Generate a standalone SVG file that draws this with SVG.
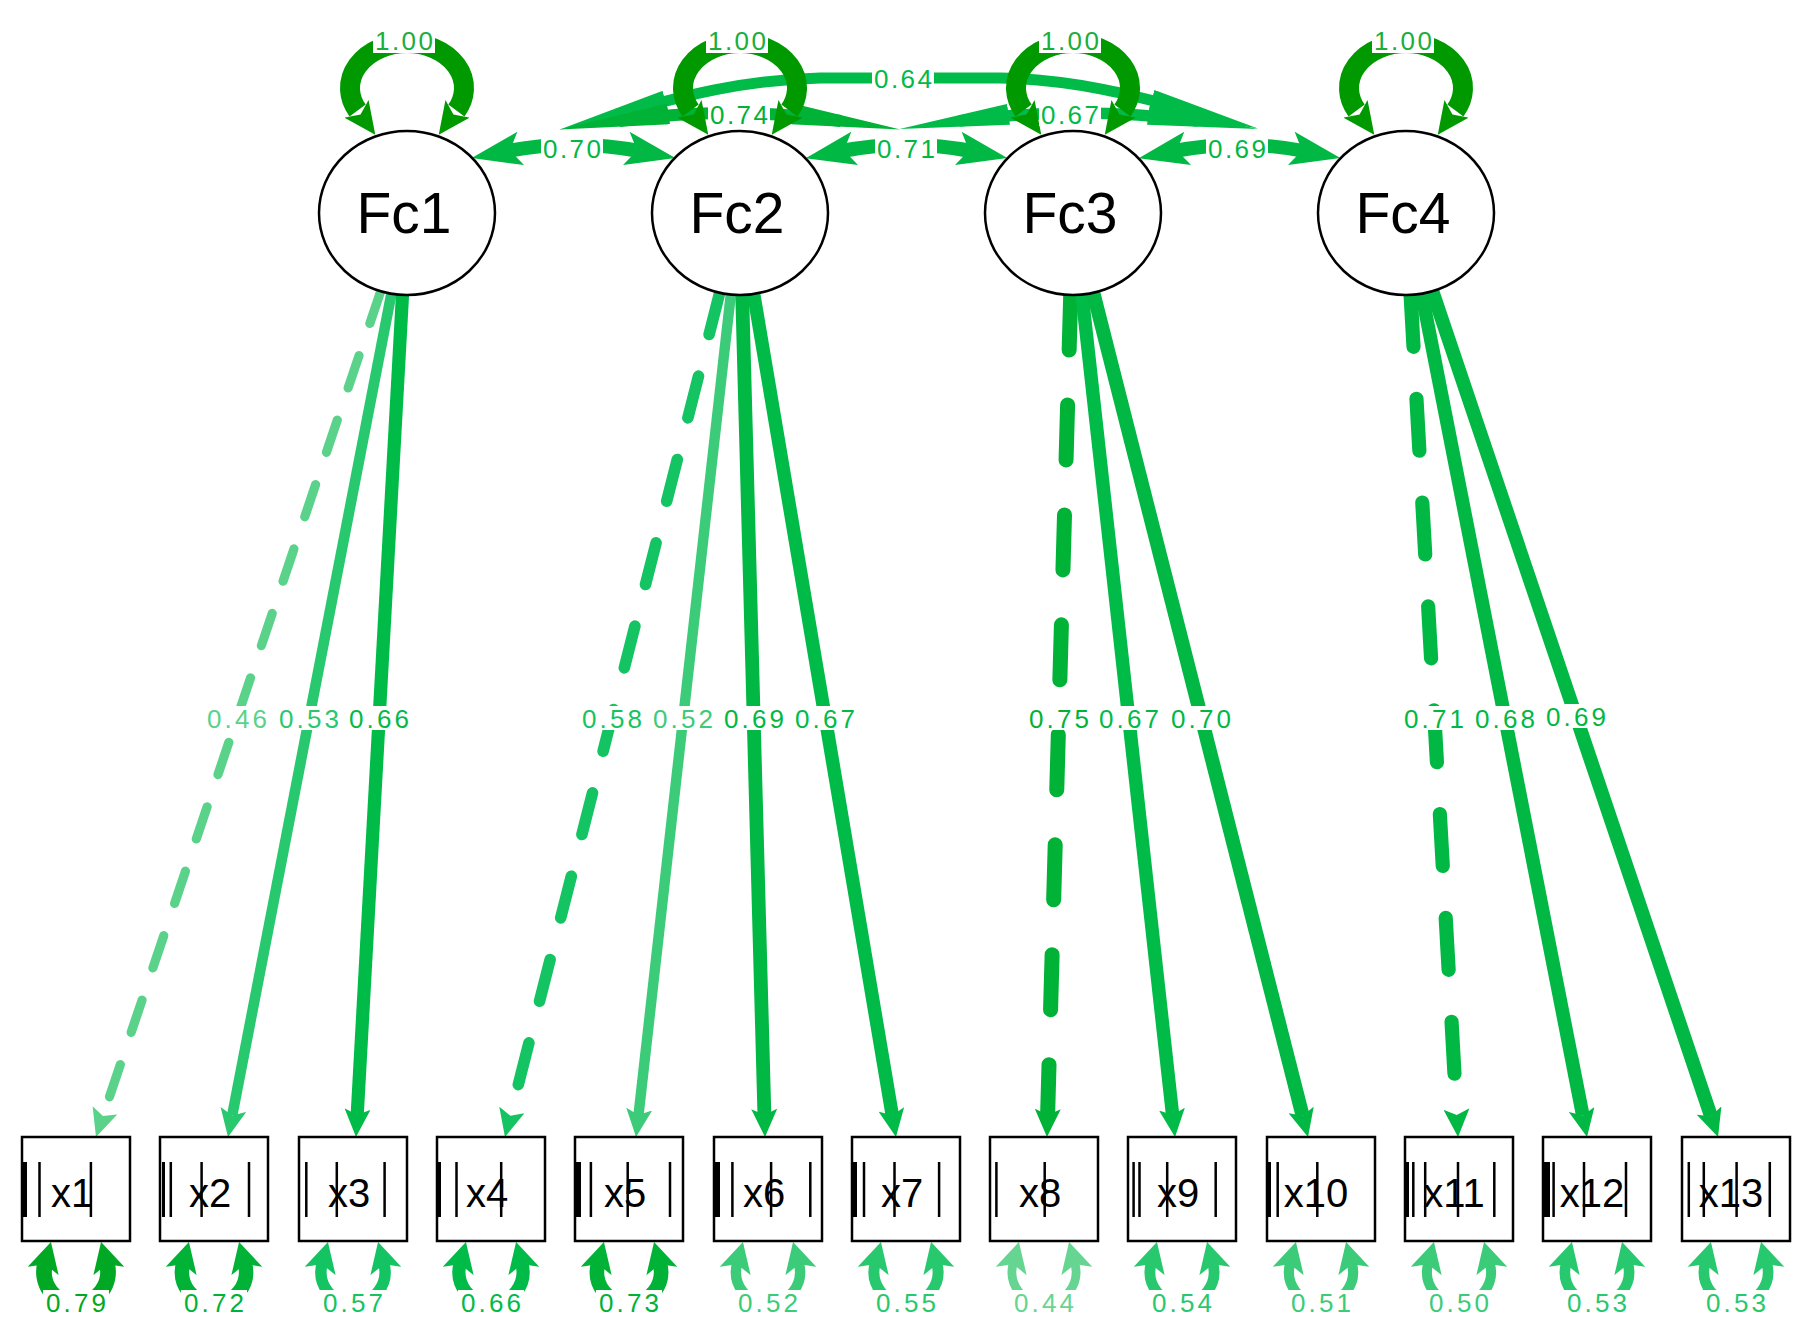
<svg xmlns="http://www.w3.org/2000/svg" width="1810" height="1335" viewBox="0 0 1810 1335">
<style>
.e{fill:none}
.d{stroke-linecap:round}
.c1{stroke:#009900}.c2{stroke:#00A824}.c3{stroke:#00B236}.c4{stroke:#00B843}.c5{stroke:#00BB48}
.c6{stroke:#14C463}.c7{stroke:#28C86E}.c8{stroke:#3CCB79}.c9{stroke:#5AD28A}.c10{stroke:#66D591}
.f0{fill:#1AAE3A}.f2{fill:#00A824}.f3{fill:#00B236}.f4{fill:#00B843}.f5{fill:#00BB48}
.f6{fill:#14C463}.f7{fill:#28C86E}.f8{fill:#3CCB79}.f9{fill:#5AD28A}.f10{fill:#66D591}
.lab{font-family:"Liberation Sans",Arial,sans-serif;font-size:26px;text-anchor:middle}
.bg{fill:#fff}
.fac{fill:#fff;stroke:#000;stroke-width:2.5}
.ftxt{font-family:"Liberation Sans",Arial,sans-serif;font-size:57px;text-anchor:middle;fill:#000}
.box{fill:#fff;stroke:#000;stroke-width:2.5}
.btxt{font-family:"Liberation Sans",Arial,sans-serif;font-size:40px;text-anchor:middle;fill:#000}
.thr{stroke:#000;stroke-width:2.5}
</style>
<defs>
<path id="hL" d="M0,0 L28,13 L0,26 L6,13 Z"/>
<path id="hR" d="M0,0 L30,16 L0,32 L7,16 Z"/>
<marker id="L3" viewBox="0 0 28 26" refX="6" refY="13" markerWidth="28" markerHeight="26" markerUnits="userSpaceOnUse" orient="auto-start-reverse"><use href="#hL" fill="#00B236"/></marker>
<marker id="L4" viewBox="0 0 28 26" refX="6" refY="13" markerWidth="28" markerHeight="26" markerUnits="userSpaceOnUse" orient="auto-start-reverse"><use href="#hL" fill="#00B843"/></marker>
<marker id="L5" viewBox="0 0 28 26" refX="6" refY="13" markerWidth="28" markerHeight="26" markerUnits="userSpaceOnUse" orient="auto-start-reverse"><use href="#hL" fill="#00BB48"/></marker>
<marker id="L6" viewBox="0 0 28 26" refX="6" refY="13" markerWidth="28" markerHeight="26" markerUnits="userSpaceOnUse" orient="auto-start-reverse"><use href="#hL" fill="#14C463"/></marker>
<marker id="L7" viewBox="0 0 28 26" refX="6" refY="13" markerWidth="28" markerHeight="26" markerUnits="userSpaceOnUse" orient="auto-start-reverse"><use href="#hL" fill="#28C86E"/></marker>
<marker id="L8" viewBox="0 0 28 26" refX="6" refY="13" markerWidth="28" markerHeight="26" markerUnits="userSpaceOnUse" orient="auto-start-reverse"><use href="#hL" fill="#3CCB79"/></marker>
<marker id="L9" viewBox="0 0 28 26" refX="6" refY="13" markerWidth="28" markerHeight="26" markerUnits="userSpaceOnUse" orient="auto-start-reverse"><use href="#hL" fill="#5AD28A"/></marker>
<marker id="R2" viewBox="0 0 30 32" refX="7.5" refY="16" markerWidth="30" markerHeight="32" markerUnits="userSpaceOnUse" orient="auto-start-reverse"><use href="#hR" fill="#00A824"/></marker>
<marker id="R3" viewBox="0 0 30 32" refX="7.5" refY="16" markerWidth="30" markerHeight="32" markerUnits="userSpaceOnUse" orient="auto-start-reverse"><use href="#hR" fill="#00B236"/></marker>
<marker id="R5" viewBox="0 0 30 32" refX="7.5" refY="16" markerWidth="30" markerHeight="32" markerUnits="userSpaceOnUse" orient="auto-start-reverse"><use href="#hR" fill="#00BB48"/></marker>
<marker id="R6" viewBox="0 0 30 32" refX="7.5" refY="16" markerWidth="30" markerHeight="32" markerUnits="userSpaceOnUse" orient="auto-start-reverse"><use href="#hR" fill="#14C463"/></marker>
<marker id="R7" viewBox="0 0 30 32" refX="7.5" refY="16" markerWidth="30" markerHeight="32" markerUnits="userSpaceOnUse" orient="auto-start-reverse"><use href="#hR" fill="#28C86E"/></marker>
<marker id="R8" viewBox="0 0 30 32" refX="7.5" refY="16" markerWidth="30" markerHeight="32" markerUnits="userSpaceOnUse" orient="auto-start-reverse"><use href="#hR" fill="#3CCB79"/></marker>
<marker id="R10" viewBox="0 0 30 32" refX="7.5" refY="16" markerWidth="30" markerHeight="32" markerUnits="userSpaceOnUse" orient="auto-start-reverse"><use href="#hR" fill="#66D591"/></marker>
<marker id="F1" viewBox="0 0 32 30" refX="2" refY="15" markerWidth="32" markerHeight="30" markerUnits="userSpaceOnUse" orient="auto-start-reverse"><path d="M0,0 L32,15 L0,30 L7,15 Z" fill="#009900"/></marker>
<marker id="C4" viewBox="0 0 50 34" refX="16" refY="17" markerWidth="50" markerHeight="34" markerUnits="userSpaceOnUse" orient="auto-start-reverse"><path d="M0,0 L50,17 L0,34 L11,17 Z" fill="#00B843"/></marker>
<marker id="W3" viewBox="0 0 110 21" refX="50" refY="10.5" markerWidth="110" markerHeight="21" markerUnits="userSpaceOnUse" orient="auto-start-reverse"><path d="M0,0 L110,10.5 L0,21 Z" fill="#00B236"/></marker>
<marker id="W5" viewBox="0 0 110 21" refX="50" refY="10.5" markerWidth="110" markerHeight="21" markerUnits="userSpaceOnUse" orient="auto-start-reverse"><path d="M0,0 L110,10.5 L0,21 Z" fill="#00BB48"/></marker>
</defs>
<rect width="1810" height="1335" fill="#fff"/>
<g id="connectors">
<!-- loadings -->
<path class="e d c9" stroke-width="9.2" stroke-dasharray="34 34" d="M380.7,291.2 L103.0,1116.1" marker-end="url(#L9)"/>
<path class="e c7" stroke-width="10.6" d="M391.4,293.7 L232.2,1115.4" marker-end="url(#L7)"/>
<path class="e c5" stroke-width="13.2" d="M402.5,294.9 L357.2,1115.0" marker-end="url(#L5)"/>
<path class="e d c6" stroke-width="11.6" stroke-dasharray="43 43" d="M719.7,292.8 L510.4,1115.7" marker-end="url(#L6)"/>
<path class="e c8" stroke-width="10.4" d="M730.8,294.6 L638.5,1115.1" marker-end="url(#L8)"/>
<path class="e c4" stroke-width="13.8" d="M742.2,295.0 L764.4,1115.0" marker-end="url(#L4)"/>
<path class="e c5" stroke-width="13.4" d="M753.7,294.0 L892.3,1115.3" marker-end="url(#L5)"/>
<path class="e d c3" stroke-width="15" stroke-dasharray="55 55" d="M1070.7,295.0 L1047.6,1115.0" marker-end="url(#L3)"/>
<path class="e c5" stroke-width="13.4" d="M1082.0,294.6 L1172.6,1115.1" marker-end="url(#L5)"/>
<path class="e c4" stroke-width="14" d="M1093.3,292.8 L1302.6,1115.7" marker-end="url(#L4)"/>
<path class="e d c4" stroke-width="14.2" stroke-dasharray="52 52" d="M1410.6,294.9 L1456.8,1115.0" marker-end="url(#L4)"/>
<path class="e c4" stroke-width="13.6" d="M1421.8,293.7 L1582.8,1115.4" marker-end="url(#L4)"/>
<path class="e c4" stroke-width="13.8" d="M1432.4,291.2 L1711.0,1116.2" marker-end="url(#L4)"/>
<!-- residual variances -->
<path class="e c2" stroke-width="15.8" d="M45.1,1263.7 A32,32 0 1 0 106.9,1263.7" marker-start="url(#R2)" marker-end="url(#R2)"/>
<path class="e c3" stroke-width="14.4" d="M183.1,1263.7 A32,32 0 1 0 244.9,1263.7" marker-start="url(#R3)" marker-end="url(#R3)"/>
<path class="e c6" stroke-width="11.4" d="M322.1,1263.7 A32,32 0 1 0 383.9,1263.7" marker-start="url(#R6)" marker-end="url(#R6)"/>
<path class="e c5" stroke-width="13.2" d="M460.1,1263.7 A32,32 0 1 0 521.9,1263.7" marker-start="url(#R5)" marker-end="url(#R5)"/>
<path class="e c3" stroke-width="14.6" d="M598.1,1263.7 A32,32 0 1 0 659.9,1263.7" marker-start="url(#R3)" marker-end="url(#R3)"/>
<path class="e c8" stroke-width="10.4" d="M737.1,1263.7 A32,32 0 1 0 798.9,1263.7" marker-start="url(#R8)" marker-end="url(#R8)"/>
<path class="e c7" stroke-width="11" d="M875.1,1263.7 A32,32 0 1 0 936.9,1263.7" marker-start="url(#R7)" marker-end="url(#R7)"/>
<path class="e c10" stroke-width="8.8" d="M1013.1,1263.7 A32,32 0 1 0 1074.9,1263.7" marker-start="url(#R10)" marker-end="url(#R10)"/>
<path class="e c7" stroke-width="10.8" d="M1151.1,1263.7 A32,32 0 1 0 1212.9,1263.7" marker-start="url(#R7)" marker-end="url(#R7)"/>
<path class="e c8" stroke-width="10.2" d="M1290.1,1263.7 A32,32 0 1 0 1351.9,1263.7" marker-start="url(#R8)" marker-end="url(#R8)"/>
<path class="e c8" stroke-width="10" d="M1428.1,1263.7 A32,32 0 1 0 1489.9,1263.7" marker-start="url(#R8)" marker-end="url(#R8)"/>
<path class="e c7" stroke-width="10.6" d="M1566.1,1263.7 A32,32 0 1 0 1627.9,1263.7" marker-start="url(#R7)" marker-end="url(#R7)"/>
<path class="e c7" stroke-width="10.6" d="M1705.1,1263.7 A32,32 0 1 0 1766.9,1263.7" marker-start="url(#R7)" marker-end="url(#R7)"/>
<!-- long covariances -->
<path class="e c5" stroke-width="11" d="M617,114 C680,97 740,80 820,78 L1000,78 C1080,80 1140,97 1200,113" marker-start="url(#W5)" marker-end="url(#W5)"/>
<path class="e c3" stroke-width="12" d="M619,121 Q730,105 841,121" marker-start="url(#W3)" marker-end="url(#W3)"/>
<path class="e c5" stroke-width="11.5" d="M959,121 Q1078,105 1198,121" marker-start="url(#W5)" marker-end="url(#W5)"/>
<!-- neighbour covariances -->
<path class="e c4" stroke-width="14" d="M505,151.5 Q573,138 642,151.5" marker-start="url(#C4)" marker-end="url(#C4)"/>
<path class="e c4" stroke-width="14.2" d="M839,151.5 Q906,138 974,151.5" marker-start="url(#C4)" marker-end="url(#C4)"/>
<path class="e c4" stroke-width="13.8" d="M1172,151.5 Q1239,138 1307,151.5" marker-start="url(#C4)" marker-end="url(#C4)"/>
<!-- factor variances -->
<path class="e c1" stroke-width="20" d="M357.6,110.5 A57,45 0 1 1 456.4,110.5" marker-start="url(#F1)" marker-end="url(#F1)"/>
<path class="e c1" stroke-width="20" d="M690.6,110.5 A57,45 0 1 1 789.4,110.5" marker-start="url(#F1)" marker-end="url(#F1)"/>
<path class="e c1" stroke-width="20" d="M1023.6,110.5 A57,45 0 1 1 1122.4,110.5" marker-start="url(#F1)" marker-end="url(#F1)"/>
<path class="e c1" stroke-width="20" d="M1356.6,110.5 A57,45 0 1 1 1455.4,110.5" marker-start="url(#F1)" marker-end="url(#F1)"/>
</g>
<g id="Fc1"><ellipse class="fac" cx="407" cy="213" rx="88" ry="82"/><text class="ftxt" x="404" y="233">Fc1</text></g>
<g id="Fc2"><ellipse class="fac" cx="740" cy="213" rx="88" ry="82"/><text class="ftxt" x="737" y="233">Fc2</text></g>
<g id="Fc3"><ellipse class="fac" cx="1073" cy="213" rx="88" ry="82"/><text class="ftxt" x="1070" y="233">Fc3</text></g>
<g id="Fc4"><ellipse class="fac" cx="1406" cy="213" rx="88" ry="82"/><text class="ftxt" x="1403" y="233">Fc4</text></g>
<g id="x1"><rect class="box" x="22" y="1137" width="108" height="104"/><rect x="23" y="1162" width="4" height="55"/><path class="thr" d="M39.5,1162V1217M90.9,1162V1217"/><text class="btxt" x="72" y="1207">x1</text></g>
<g id="x2"><rect class="box" x="160" y="1137" width="108" height="104"/><rect x="162" y="1162" width="3" height="55"/><path class="thr" d="M170.8,1162V1217M201.6,1162V1217M249,1162V1217"/><text class="btxt" x="210" y="1207">x2</text></g>
<g id="x3"><rect class="box" x="299" y="1137" width="108" height="104"/><path class="thr" d="M306.3,1162V1217M336.8,1162V1217M384.6,1162V1217"/><text class="btxt" x="349" y="1207">x3</text></g>
<g id="x4"><rect class="box" x="437" y="1137" width="108" height="104"/><rect x="437" y="1162" width="4" height="55"/><path class="thr" d="M456.5,1162V1217M501.2,1162V1217"/><text class="btxt" x="487" y="1207">x4</text></g>
<g id="x5"><rect class="box" x="575" y="1137" width="108" height="104"/><rect x="575" y="1162" width="6" height="55"/><path class="thr" d="M590.9,1162V1217M627.7,1162V1217M670,1162V1217"/><text class="btxt" x="625" y="1207">x5</text></g>
<g id="x6"><rect class="box" x="714" y="1137" width="108" height="104"/><rect x="714" y="1162" width="6" height="55"/><path class="thr" d="M732.4,1162V1217M771.1,1162V1217M810.3,1162V1217"/><text class="btxt" x="764" y="1207">x6</text></g>
<g id="x7"><rect class="box" x="852" y="1137" width="108" height="104"/><rect x="853" y="1162" width="4" height="55"/><path class="thr" d="M864,1162V1217M894.5,1162V1217M939.1,1162V1217"/><text class="btxt" x="902" y="1207">x7</text></g>
<g id="x8"><rect class="box" x="990" y="1137" width="108" height="104"/><path class="thr" d="M996.4,1162V1217M1044.7,1162V1217"/><text class="btxt" x="1040" y="1207">x8</text></g>
<g id="x9"><rect class="box" x="1128" y="1137" width="108" height="104"/><path class="thr" d="M1133.6,1162V1217M1139.5,1162V1217M1167.2,1162V1217M1215.7,1162V1217"/><text class="btxt" x="1178" y="1207">x9</text></g>
<g id="x10"><rect class="box" x="1267" y="1137" width="108" height="104"/><rect x="1267" y="1162" width="4" height="55"/><path class="thr" d="M1277.7,1162V1217M1317.3,1162V1217"/><text class="btxt" x="1316" y="1207">x10</text></g>
<g id="x11"><rect class="box" x="1405" y="1137" width="108" height="104"/><rect x="1405" y="1162" width="4" height="55"/><path class="thr" d="M1413.3,1162V1217M1425.2,1162V1217M1458,1162V1217M1494.3,1162V1217"/><text class="btxt" x="1454" y="1207">x11</text></g>
<g id="x12"><rect class="box" x="1543" y="1137" width="108" height="104"/><rect x="1543" y="1162" width="7" height="55"/><path class="thr" d="M1553.6,1162V1217M1584,1162V1217M1626,1162V1217"/><text class="btxt" x="1592" y="1207">x12</text></g>
<g id="x13"><rect class="box" x="1682" y="1137" width="108" height="104"/><path class="thr" d="M1688.8,1162V1217M1703.8,1162V1217M1736.6,1162V1217M1769.8,1162V1217"/><text class="btxt" x="1731" y="1207">x13</text></g>
<g id="edge-labels">
<rect class="bg" x="373" y="28" width="62" height="25"/><text class="lab f0" x="404" y="49.5" textLength="58">1.00</text>
<rect class="bg" x="706" y="28" width="62" height="25"/><text class="lab f0" x="737" y="49.5" textLength="58">1.00</text>
<rect class="bg" x="1039" y="28" width="62" height="25"/><text class="lab f0" x="1070" y="49.5" textLength="58">1.00</text>
<rect class="bg" x="1372" y="28" width="62" height="25"/><text class="lab f0" x="1403" y="49.5" textLength="58">1.00</text>
<rect class="bg" x="872" y="67" width="62" height="23"/><text class="lab f5" x="903" y="87.5" textLength="58">0.64</text>
<rect class="bg" x="708" y="103" width="62" height="23"/><text class="lab f3" x="739" y="123.5" textLength="58">0.74</text>
<rect class="bg" x="1039" y="103" width="62" height="23"/><text class="lab f5" x="1070" y="123.5" textLength="58">0.67</text>
<rect class="bg" x="541" y="137" width="62" height="23"/><text class="lab f4" x="572" y="157.5" textLength="58">0.70</text>
<rect class="bg" x="875" y="137" width="62" height="23"/><text class="lab f4" x="906" y="157.5" textLength="58">0.71</text>
<rect class="bg" x="1206" y="137" width="62" height="23"/><text class="lab f4" x="1237" y="157.5" textLength="58">0.69</text>
<rect class="bg" x="206" y="706" width="62" height="24"/><text class="lab f9" x="237" y="727.5" textLength="60">0.46</text>
<rect class="bg" x="278" y="706" width="62" height="24"/><text class="lab f7" x="309" y="727.5" textLength="60">0.53</text>
<rect class="bg" x="348" y="706" width="62" height="24"/><text class="lab f5" x="379" y="727.5" textLength="60">0.66</text>
<rect class="bg" x="581" y="706" width="62" height="24"/><text class="lab f6" x="612" y="727.5" textLength="60">0.58</text>
<rect class="bg" x="652" y="706" width="62" height="24"/><text class="lab f8" x="683" y="727.5" textLength="60">0.52</text>
<rect class="bg" x="723" y="706" width="62" height="24"/><text class="lab f4" x="754" y="727.5" textLength="60">0.69</text>
<rect class="bg" x="794" y="706" width="62" height="24"/><text class="lab f5" x="825" y="727.5" textLength="60">0.67</text>
<rect class="bg" x="1028" y="706" width="62" height="24"/><text class="lab f3" x="1059" y="727.5" textLength="60">0.75</text>
<rect class="bg" x="1098" y="706" width="62" height="24"/><text class="lab f5" x="1129" y="727.5" textLength="60">0.67</text>
<rect class="bg" x="1170" y="706" width="62" height="24"/><text class="lab f4" x="1201" y="727.5" textLength="60">0.70</text>
<rect class="bg" x="1403" y="706" width="62" height="24"/><text class="lab f4" x="1434" y="727.5" textLength="60">0.71</text>
<rect class="bg" x="1474" y="706" width="62" height="24"/><text class="lab f4" x="1505" y="727.5" textLength="60">0.68</text>
<rect class="bg" x="1545" y="704" width="62" height="24"/><text class="lab f4" x="1576" y="725.5" textLength="60">0.69</text>
<rect class="bg" x="43" y="1290" width="66" height="25"/><text class="lab f2" x="76" y="1311.5" textLength="60">0.79</text>
<rect class="bg" x="181" y="1290" width="66" height="25"/><text class="lab f3" x="214" y="1311.5" textLength="60">0.72</text>
<rect class="bg" x="320" y="1290" width="66" height="25"/><text class="lab f6" x="353" y="1311.5" textLength="60">0.57</text>
<rect class="bg" x="458" y="1290" width="66" height="25"/><text class="lab f5" x="491" y="1311.5" textLength="60">0.66</text>
<rect class="bg" x="596" y="1290" width="66" height="25"/><text class="lab f3" x="629" y="1311.5" textLength="60">0.73</text>
<rect class="bg" x="735" y="1290" width="66" height="25"/><text class="lab f8" x="768" y="1311.5" textLength="60">0.52</text>
<rect class="bg" x="873" y="1290" width="66" height="25"/><text class="lab f7" x="906" y="1311.5" textLength="60">0.55</text>
<rect class="bg" x="1011" y="1290" width="66" height="25"/><text class="lab f10" x="1044" y="1311.5" textLength="60">0.44</text>
<rect class="bg" x="1149" y="1290" width="66" height="25"/><text class="lab f7" x="1182" y="1311.5" textLength="60">0.54</text>
<rect class="bg" x="1288" y="1290" width="66" height="25"/><text class="lab f8" x="1321" y="1311.5" textLength="60">0.51</text>
<rect class="bg" x="1426" y="1290" width="66" height="25"/><text class="lab f8" x="1459" y="1311.5" textLength="60">0.50</text>
<rect class="bg" x="1564" y="1290" width="66" height="25"/><text class="lab f7" x="1597" y="1311.5" textLength="60">0.53</text>
<rect class="bg" x="1703" y="1290" width="66" height="25"/><text class="lab f7" x="1736" y="1311.5" textLength="60">0.53</text>
</g>
</svg>
